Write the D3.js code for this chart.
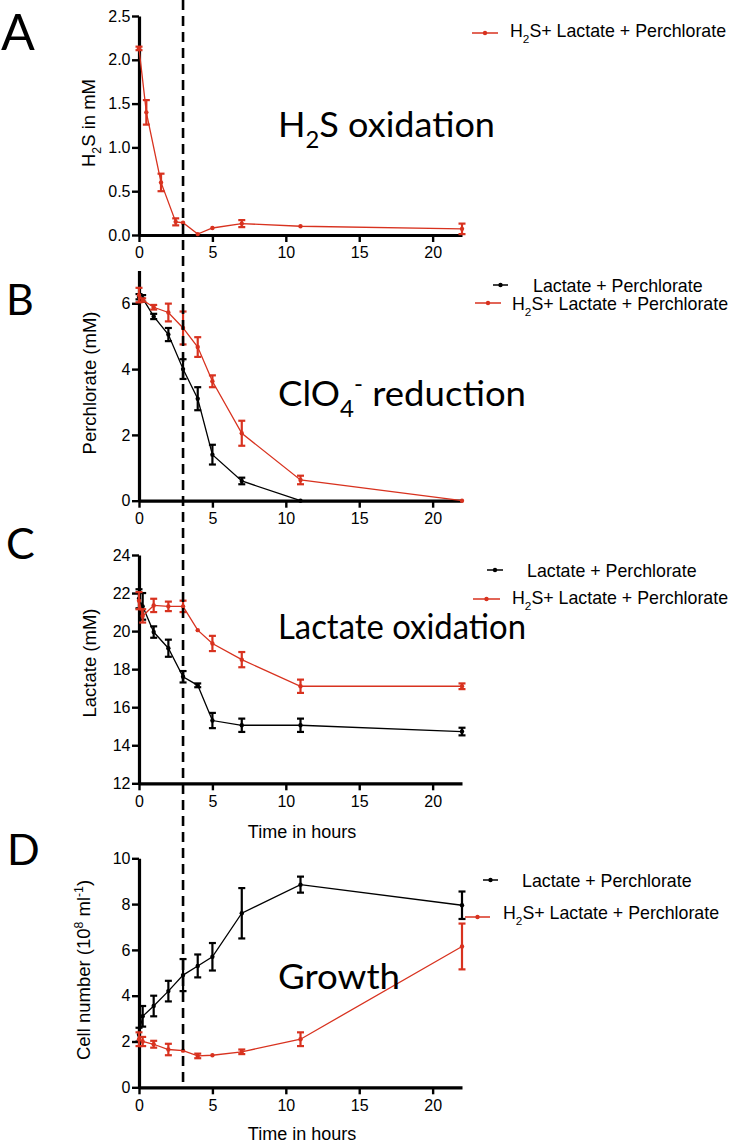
<!DOCTYPE html>
<html><head><meta charset="utf-8">
<script src="https://cdn.jsdelivr.net/npm/d3@7"></script>
<style>body{margin:0;background:#fff} svg{display:block}</style>
</head><body>
<svg id="c" width="733" height="1143"></svg>
<script>
// ---- Data ----
const hoursA = [0,0.5,1.5,2.5,3,4,5,7,11,22];
const h2sRed = [2.13,1.40,0.60,0.15,0.14,0.01,0.08,0.13,0.10,0.07];
const h2sRedErr = [0.02,0.14,0.10,0.04,0,0,0,0.04,0,0.06];

const hoursBlackB = [0,0.25,1,2,3,4,5,7,11];
const perchBlack = [6.2,6.15,5.6,5.05,4.0,3.1,1.4,0.6,0.0];
const perchBlackErr = [0.08,0.1,0.08,0.2,0.3,0.35,0.3,0.1,0];
const hoursRedB = [0,0.25,1,2,3,4,5,7,11,22];
const perchRed = [6.25,6.1,5.88,5.72,5.25,4.67,3.63,2.05,0.63,0.0];
const perchRedErr = [0.22,0.05,0.07,0.27,0.5,0.3,0.18,0.38,0.13,0];

const hoursC = [0,0.25,1,2,3,4,5,7,11,22];
const lactBlack = [21.7,21.3,19.95,19.1,17.6,17.15,15.3,15.05,15.05,14.72];
const lactBlackErr = [0.5,0.7,0.3,0.45,0.3,0.1,0.4,0.35,0.35,0.2];
const lactRed = [21.6,20.8,21.35,21.3,21.3,20.05,19.35,18.5,17.1,17.1];
const lactRedErr = [0.45,0.35,0.35,0.25,0.3,0,0.4,0.4,0.35,0.15];

const hoursD = [0,0.25,1,2,3,4,5,7,11,22];
const cellsBlack = [2.3,3.1,3.55,4.2,4.9,5.3,5.7,7.6,8.85,7.95];
const cellsBlackErr = [0.3,0.45,0.45,0.45,0.7,0.5,0.6,1.1,0.35,0.6];
const cellsRed = [2.1,2.0,1.88,1.65,1.6,1.37,1.4,1.55,2.1,6.15];
const cellsRedErr = [0.3,0.2,0.15,0.25,0,0.1,0,0.1,0.3,1.0];

const xTicks = [0,5,10,15,20];
const yTicksA = [0,0.5,1.0,1.5,2.0,2.5];
const yTicksB = [0,2,4,6];
const yTicksC = [12,14,16,18,20,22,24];
const yTicksD = [0,2,4,6,8,10];
const markerTime = 3;

// ---- Drawing ----
const RED = "#d8321f", BLACK = "#000";
const svg = d3.select("#c");
const SANS = "'Liberation Sans', Arial, Helvetica, sans-serif";
const TITLE = "Lato, 'Open Sans', sans-serif";
const x = d3.scaleLinear().domain([0,22]).range([139,462]);
const LFS = 17.8;

function rich(sel, parts, fs) {
  let shift = 0;
  parts.forEach(p => {
    const ts = sel.append("tspan").text(p.t);
    let target = 0;
    if (p.sub) { target = fs*0.32; ts.attr("font-size", fs*0.66); }
    if (p.sup) { target = -fs*0.4; ts.attr("font-size", fs*0.66); }
    const dy = target - shift;
    if (dy !== 0) ts.attr("dy", dy);
    shift = target;
  });
}

function panel(cfg) {
  const y = d3.scaleLinear().domain(cfg.domain).range(cfg.range);
  const g = svg.append("g");
  // axes
  const ya = g.append("g").attr("transform", `translate(${x(0)},0)`)
    .call(d3.axisLeft(y).tickValues(cfg.yTicks).tickFormat(cfg.fmt).tickSize(7).tickSizeOuter(0).tickPadding(1.5));
  const xa = g.append("g").attr("transform", `translate(0,${y(cfg.domain[0])})`)
    .call(d3.axisBottom(x).tickValues(xTicks).tickFormat(d3.format("d")).tickSize(7).tickSizeOuter(0).tickPadding(5));
  [ya, xa].forEach(a => {
    a.select(".domain").attr("stroke", "#000").attr("stroke-width", 3.2);
    a.selectAll(".tick line").attr("stroke", "#000").attr("stroke-width", 2.4);
    a.selectAll(".tick text").attr("font-size", 16).attr("font-family", SANS).attr("fill", "#000");
  });
  // y title
  const yt = g.append("text").attr("transform", `translate(${cfg.ytx},${cfg.yty}) rotate(-90)`)
    .attr("text-anchor", "middle").attr("font-family", SANS).attr("font-size", 18.5).attr("fill", "#000");
  rich(yt, cfg.ytitle, 18.5);
  if (cfg.xtitleY) {
    g.append("text").attr("x", 302).attr("y", cfg.xtitleY).attr("text-anchor", "middle")
      .attr("font-family", SANS).attr("font-size", 18).text("Time in hours");
  }
  // series
  cfg.series.forEach(s => {
    const pts = s.xs.map((t, i) => ({t, v: s.vs[i], e: s.es[i]}));
    g.append("path").datum(pts).attr("fill", "none").attr("stroke", s.color).attr("stroke-width", 1.3)
      .attr("d", d3.line().x(d => x(d.t)).y(d => y(d.v)));
    const eb = g.append("g").attr("stroke", s.color).attr("stroke-width", 2.2).attr("fill", "none");
    pts.filter(d => d.e > 0).forEach(d => {
      const cx = x(d.t), y1 = y(d.v + d.e), y2 = y(d.v - d.e);
      eb.append("line").attr("x1", cx).attr("x2", cx).attr("y1", y1).attr("y2", y2);
      eb.append("line").attr("x1", cx - 3.5).attr("x2", cx + 3.5).attr("y1", y1).attr("y2", y1);
      eb.append("line").attr("x1", cx - 3.5).attr("x2", cx + 3.5).attr("y1", y2).attr("y2", y2);
    });
    g.selectAll(null).data(pts).enter().append("circle")
      .attr("cx", d => x(d.t)).attr("cy", d => y(d.v)).attr("r", 2.2).attr("fill", s.color);
  });
  // legend
  cfg.legend.forEach(l => {
    g.append("line").attr("x1", l.x1).attr("x2", l.x2).attr("y1", l.ly).attr("y2", l.ly)
      .attr("stroke", l.color).attr("stroke-width", 1.5);
    g.append("circle").attr("cx", (l.x1 + l.x2) / 2).attr("cy", l.ly).attr("r", 2.2).attr("fill", l.color);
    const t = g.append("text").attr("x", l.tx).attr("y", l.ty).attr("font-family", SANS).attr("font-size", LFS).attr("fill", "#000");
    rich(t, l.parts, LFS);
  });
  // panel title
  const tt = g.append("text").attr("x", 278).attr("y", cfg.titleY).attr("font-family", TITLE).attr("font-size", 34)
    .attr("fill", "#000").attr("textLength", cfg.titleW).attr("lengthAdjust", "spacingAndGlyphs");
  rich(tt, cfg.title, 34);
  // panel letter
  g.append("text").attr("x", cfg.letterX).attr("y", cfg.letterY).attr("font-family", TITLE)
    .attr("font-size", cfg.letterSize).attr("fill", "#000").text(cfg.letter);
}

const legBlack = [{t: "Lactate + Perchlorate"}];
const legRed = [{t: "H"}, {t: "2", sub: true}, {t: "S+ Lactate + Perchlorate"}];

panel({
  domain: [0, 2.5], range: [235, 16], yTicks: yTicksA, fmt: d3.format(".1f"),
  ytitle: [{t: "H"}, {t: "2", sub: true}, {t: "S in mM"}], ytx: 95, yty: 123,
  series: [{xs: hoursA, vs: h2sRed, es: h2sRedErr, color: RED}],
  legend: [{x1: 472, x2: 498, ly: 33, tx: 510, ty: 37, color: RED, parts: legRed}],
  title: [{t: "H"}, {t: "2", sub: true}, {t: "S oxidation"}], titleY: 137, titleW: 217,
  letter: "A", letterX: 1, letterY: 50, letterSize: 50
});
panel({
  domain: [0, 7], range: [500.7, 270.4], yTicks: yTicksB, fmt: d3.format("d"),
  ytitle: [{t: "Perchlorate (mM)"}], ytx: 96, yty: 383,
  series: [{xs: hoursBlackB, vs: perchBlack, es: perchBlackErr, color: BLACK},
           {xs: hoursRedB, vs: perchRed, es: perchRedErr, color: RED}],
  legend: [{x1: 493, x2: 508, ly: 285, tx: 533, ty: 292, color: BLACK, parts: legBlack},
           {x1: 475, x2: 501, ly: 303, tx: 512, ty: 310, color: RED, parts: legRed}],
  title: [{t: "ClO"}, {t: "4", sub: true}, {t: "-", sup: true}, {t: " reduction"}], titleY: 406, titleW: 248,
  letter: "B", letterX: 6, letterY: 315, letterSize: 43
});
panel({
  domain: [12, 24], range: [783.3, 555], yTicks: yTicksC, fmt: d3.format("d"),
  ytitle: [{t: "Lactate (mM)"}], ytx: 96, yty: 663,
  xtitleY: 838,
  series: [{xs: hoursC, vs: lactBlack, es: lactBlackErr, color: BLACK},
           {xs: hoursC, vs: lactRed, es: lactRedErr, color: RED}],
  legend: [{x1: 487, x2: 503, ly: 570, tx: 527, ty: 577, color: BLACK, parts: legBlack},
           {x1: 473, x2: 500, ly: 599, tx: 512, ty: 604, color: RED, parts: legRed}],
  title: [{t: "Lactate oxidation"}], titleY: 639, titleW: 248,
  letter: "C", letterX: 6, letterY: 559, letterSize: 43
});
panel({
  domain: [0, 10], range: [1087.3, 858.3], yTicks: yTicksD, fmt: d3.format("d"),
  ytitle: [{t: "Cell number (10"}, {t: "8", sup: true}, {t: " ml"}, {t: "-1", sup: true}, {t: ")"}], ytx: 90, yty: 970,
  xtitleY: 1140,
  series: [{xs: hoursD, vs: cellsBlack, es: cellsBlackErr, color: BLACK},
           {xs: hoursD, vs: cellsRed, es: cellsRedErr, color: RED}],
  legend: [{x1: 483, x2: 498, ly: 880, tx: 522, ty: 887, color: BLACK, parts: legBlack},
           {x1: 465, x2: 490, ly: 917, tx: 503, ty: 919, color: RED, parts: legRed}],
  title: [{t: "Growth"}], titleY: 989, titleW: 122,
  letter: "D", letterX: 7, letterY: 865, letterSize: 43
});

// dashed marker line at 3 h
svg.append("line").attr("x1", x(markerTime)).attr("x2", x(markerTime)).attr("y1", 0).attr("y2", 1087)
  .attr("stroke", "#000").attr("stroke-width", 2.6).attr("stroke-dasharray", "10,6");
</script>
</body></html>
